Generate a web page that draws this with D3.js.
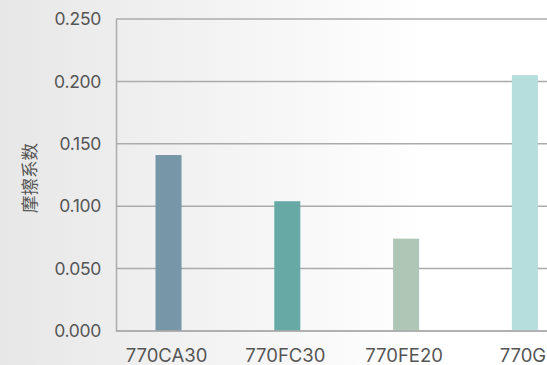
<!DOCTYPE html>
<html>
<head>
<meta charset="utf-8">
<script src="https://cdn.jsdelivr.net/npm/d3@7/dist/d3.min.js"></script>
<style>
  html, body { margin: 0; padding: 0; background: #fff; }
  svg { display: block; }
</style>
</head>
<body>
<svg id="chart" width="547" height="365"></svg>
<script>
// Friction coefficient by material grade
const categories = ["770CA30", "770FC30", "770FE20", "770G"];
const values = [0.141, 0.104, 0.074, 0.205];
const barColors = ["#7796a8", "#67aaa5", "#afc5b5", "#b5dedd"];
const yTicks = [0, 0.05, 0.10, 0.15, 0.20, 0.25];
const yTitle = "摩擦系数";

const W = 547, H = 365;
const svg = d3.select("#chart");

// soft horizontal background wash
const defs = svg.append("defs");
const grad = defs.append("linearGradient").attr("id", "bg")
  .attr("x1", "0").attr("y1", "0").attr("x2", "1").attr("y2", "0");
grad.append("stop").attr("offset", "0%").attr("stop-color", "#e7e7e7");
grad.append("stop").attr("offset", "78%").attr("stop-color", "#ffffff");
grad.append("stop").attr("offset", "100%").attr("stop-color", "#ffffff");
svg.append("rect").attr("width", W).attr("height", H).attr("fill", "url(#bg)");

const x0 = 116, yTop = 19, yBot = 331;

const y = d3.scaleLinear().domain([0, 0.25]).range([yBot, yTop]);
const x = d3.scaleBand().domain(categories)
  .range([x0, 577.4]).paddingInner(0.781).paddingOuter(0.3325);

// horizontal grid lines
svg.append("g")
  .selectAll("line").data(yTicks).join("line")
  .attr("x1", x0).attr("x2", W)
  .attr("y1", d => y(d)).attr("y2", d => y(d))
  .attr("stroke", "#ababab").attr("stroke-width", 1.5);

// bars
svg.append("g")
  .selectAll("rect").data(values).join("rect")
  .attr("x", (d, i) => x(categories[i]))
  .attr("width", x.bandwidth())
  .attr("y", d => y(d))
  .attr("height", d => y(0) - y(d))
  .attr("fill", (d, i) => barColors[i]);

// baseline redrawn over bars
svg.append("line")
  .attr("x1", x0).attr("x2", W).attr("y1", y(0)).attr("y2", y(0))
  .attr("stroke", "#ababab").attr("stroke-width", 1.5);

// y axis
const yAxis = d3.axisLeft(y).tickValues(yTicks).tickFormat(d3.format(".3f"))
  .tickSize(0).tickPadding(15);
const gy = svg.append("g").attr("transform", `translate(${x0},0)`).call(yAxis);
gy.select(".domain").attr("stroke", "#ababab").attr("stroke-width", 1.5);
gy.selectAll("text")
  .attr("font-family", "Inter, 'Noto Sans', sans-serif")
  .attr("font-size", 17.5).attr("letter-spacing", -0.3).attr("fill", "#555");

// x axis labels
const xAxis = d3.axisBottom(x).tickSize(0).tickPadding(18);
const gx = svg.append("g").attr("transform", `translate(-2,${yBot})`).call(xAxis);
gx.select(".domain").remove();
gx.selectAll("text")
  .attr("font-family", "Inter, 'Noto Sans', sans-serif")
  .attr("font-size", 18.5).attr("fill", "#555");

// y axis title
svg.append("text")
  .attr("transform", `translate(36,${(yTop + yBot) / 2 + 3}) rotate(-90)`)
  .attr("text-anchor", "middle")
  .attr("font-family", "'Noto Sans CJK SC', sans-serif")
  .attr("font-size", 17.5).attr("fill", "#555")
  .text(yTitle);
</script>
</body>
</html>
